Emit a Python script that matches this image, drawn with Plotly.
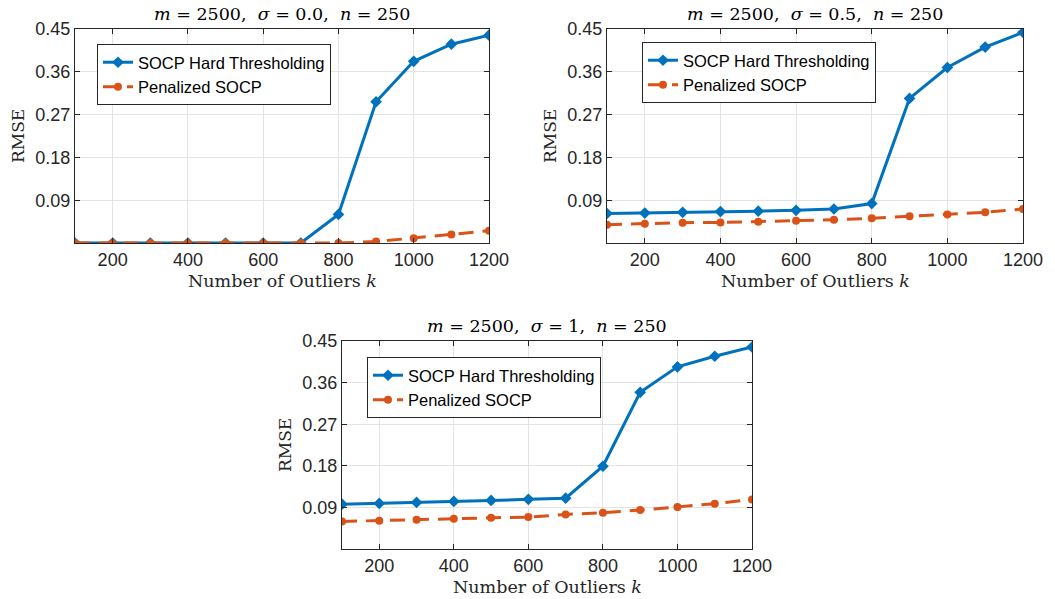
import plotly.graph_objects as go

k = [100, 200, 300, 400, 500, 600, 700, 800, 900, 1000, 1100, 1200]

ht_s0 = [0.0, 0.0, 0.0, 0.0, 0.0, 0.0, 0.0, 0.060, 0.297, 0.382, 0.418, 0.437]
pen_s0 = [0.0, 0.0, 0.0, 0.0, 0.0, 0.0, 0.0, 0.0, 0.003, 0.010, 0.018, 0.026]

ht_s05 = [0.062, 0.063, 0.0645, 0.066, 0.067, 0.0687, 0.0715, 0.083, 0.304, 0.369, 0.412, 0.443]
pen_s05 = [0.0386, 0.0407, 0.0428, 0.0432, 0.0449, 0.047, 0.049, 0.052, 0.056, 0.060, 0.0645, 0.0715]

ht_s1 = [0.097, 0.0987, 0.1008, 0.103, 0.105, 0.1074, 0.110, 0.179, 0.339, 0.394, 0.417, 0.437]
pen_s1 = [0.0596, 0.061, 0.0633, 0.0654, 0.0676, 0.069, 0.0748, 0.0784, 0.0842, 0.0907, 0.098, 0.1073]

yticks = [0.09, 0.18, 0.27, 0.36, 0.45]
ytick_text = ["0.09", "0.18", "0.27", "0.36", "0.45"]
xticks = [200, 400, 600, 800, 1000, 1200]

titles = [
    "<i>m</i> = 2500,  <i>σ</i> = 0.0,  <i>n</i> = 250",
    "<i>m</i> = 2500,  <i>σ</i> = 0.5,  <i>n</i> = 250",
    "<i>m</i> = 2500,  <i>σ</i> = 1,  <i>n</i> = 250",
]
name_ht = "SOCP Hard Thresholding"
name_pen = "Penalized SOCP"

BLUE = "#0072BD"
ORANGE = "#D95319"
AX = "#262626"
W, H = 1055, 599

# panel pixel boxes: left, right, top, bottom
boxes = [(75, 489, 29, 243), (607, 1023, 29, 243), (342, 752, 341, 549)]
legend_pos = [(97, 44), (642, 42), (367, 357)]
series = [(ht_s0, pen_s0), (ht_s05, pen_s05), (ht_s1, pen_s1)]

fig = go.Figure()
annotations = []
layout = {}
for i, ((l, r, t, b), (ht, pen)) in enumerate(zip(boxes, series)):
    sfx = "" if i == 0 else str(i + 1)
    leg = "legend" if i == 0 else f"legend{i + 1}"
    fig.add_trace(go.Scatter(
        x=k, y=ht, mode="lines+markers", name=name_ht,
        line=dict(color=BLUE, width=3),
        marker=dict(symbol="diamond", size=9, color=BLUE),
        xaxis="x" + sfx, yaxis="y" + sfx, legend=leg))
    fig.add_trace(go.Scatter(
        x=k, y=pen, mode="lines+markers", name=name_pen,
        line=dict(color=ORANGE, width=3, dash="15px,9px"),
        marker=dict(symbol="circle", size=8, color=ORANGE),
        xaxis="x" + sfx, yaxis="y" + sfx, legend=leg))
    common = dict(showline=True, linecolor=AX, linewidth=1, mirror="ticks",
                  ticks="inside", ticklen=5, tickcolor=AX,
                  showgrid=True, gridcolor="#e3e3e3", gridwidth=1,
                  zeroline=False, automargin=False,
                  tickfont=dict(family="Liberation Sans, Arial", size=18, color=AX))
    layout["xaxis" + sfx] = dict(common, domain=[l / W, r / W], range=[100, 1200],
                                 tickvals=xticks, anchor="y" + sfx)
    layout["yaxis" + sfx] = dict(common, domain=[1 - b / H, 1 - t / H], range=[0, 0.45],
                                 tickvals=yticks, ticktext=ytick_text, anchor="x" + sfx)
    lx, ly = legend_pos[i]
    layout[leg] = dict(x=lx / W, y=1 - ly / H, xanchor="left", yanchor="top",
                       bgcolor="white", bordercolor=AX, borderwidth=1,
                       font=dict(family="Liberation Sans, Arial", size=16.5, color="black"),
                       tracegroupgap=0, itemwidth=30)
    cx = (l + r) / 2
    annotations.append(dict(text=titles[i], x=cx / W, y=1 - (t - 15) / H, xref="paper", yref="paper",
                            showarrow=False, xanchor="center", yanchor="middle",
                            font=dict(family="DejaVu Serif", size=17.5, color="black")))
    annotations.append(dict(text="Number of Outliers <i>k</i>", x=cx / W, y=1 - (b + 38) / H,
                            xref="paper", yref="paper", showarrow=False,
                            xanchor="center", yanchor="middle",
                            font=dict(family="DejaVu Serif", size=17.5, color=AX)))
    annotations.append(dict(text="RMSE", x=(l - 57) / W, y=1 - ((t + b) / 2) / H,
                            xref="paper", yref="paper", showarrow=False, textangle=-90,
                            xanchor="center", yanchor="middle",
                            font=dict(family="DejaVu Serif", size=17, color=AX)))

fig.update_layout(**layout)
fig.update_layout(width=W, height=H,
                  margin=dict(l=0, r=0, t=0, b=0, pad=0, autoexpand=False),
                  paper_bgcolor="white", plot_bgcolor="white",
                  annotations=annotations, showlegend=True)
fig.write_html("out.html")
